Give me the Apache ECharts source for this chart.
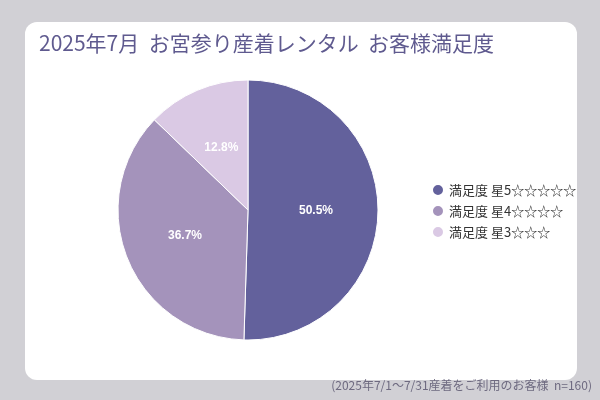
<!DOCTYPE html>
<html><head><meta charset="utf-8">
<script src="https://cdn.jsdelivr.net/npm/echarts@6/dist/echarts.min.js"></script>
<style>html,body{margin:0;padding:0;background:#d1d0d5}#c{width:600px;height:400px}</style>
</head><body><div id="c"></div>
<script>
var categories = ['満足度 星5☆☆☆☆☆', '満足度 星4☆☆☆☆', '満足度 星3☆☆☆'];
var shares = [50.5, 36.7, 12.8];
var colors = ['#63619c', '#a493bb', '#dac9e4'];

var chart = echarts.init(document.getElementById('c'));
var font = '"Noto Sans CJK JP", sans-serif';
chart.setOption({
  backgroundColor: '#d1d0d5',
  color: colors,
  graphic: [{
    type: 'rect', z: -1,
    shape: { x: 25, y: 22, width: 552, height: 358, r: 12 },
    style: { fill: '#ffffff' }
  }, {
    type: 'text', right: 8, top: 379,
    style: { text: '(2025年7/1〜7/31産着をご利用のお客様  n=160)', fill: '#6e6a80', font: '12px ' + font }
  }],
  title: {
    text: '2025年7月  お宮参り産着レンタル  お客様満足度',
    left: 34, top: 28,
    textStyle: { color: '#5f5a8f', fontSize: 21, fontWeight: 'normal', fontFamily: font }
  },
  legend: {
    orient: 'vertical', left: 426, top: 178, itemGap: 7,
    icon: 'circle', itemWidth: 12, itemHeight: 12,
    textStyle: { color: '#333', fontSize: 13, fontFamily: font }
  },
  series: [{
    type: 'pie', center: [248, 210], radius: 130,
    startAngle: 90, clockwise: true,
    label: { position: 'inside', formatter: '{c}%', color: '#fff', fontSize: 12, fontWeight: 'bold', fontFamily: 'Liberation Sans' },
    labelLine: { show: false },
    itemStyle: { borderColor: '#fff', borderWidth: 1 },
    data: categories.map(function (n, i) { return { name: n, value: shares[i] }; })
  }]
});
</script></body></html>
